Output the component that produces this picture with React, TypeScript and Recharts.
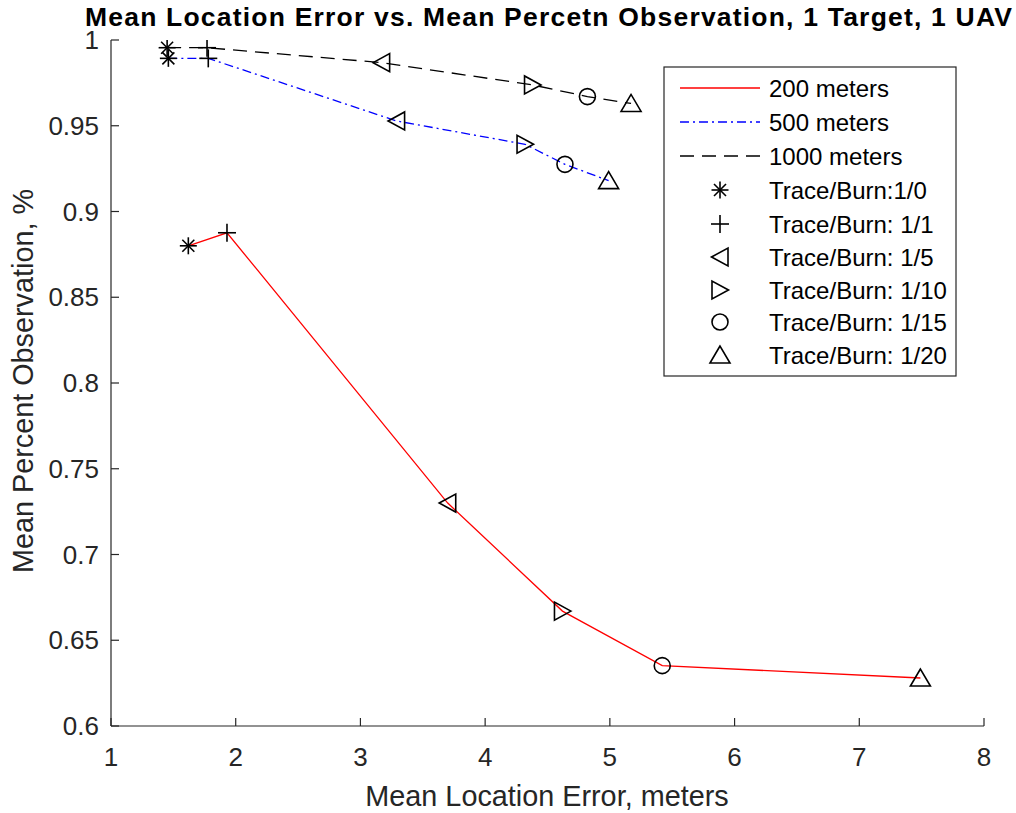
import React from 'react';
import { ScatterChart, Scatter, XAxis, YAxis, Customized } from 'recharts';

const markerKinds = ['asterisk', 'plus', 'left', 'right', 'circle', 'up'];
const markerLabels = ['Trace/Burn:1/0', 'Trace/Burn: 1/1', 'Trace/Burn: 1/5', 'Trace/Burn: 1/10', 'Trace/Burn: 1/15', 'Trace/Burn: 1/20'];

const x200 = [1.62, 1.93, 3.70, 4.62, 5.42, 7.49];
const y200 = [0.880, 0.8876, 0.730, 0.667, 0.6352, 0.628];
const x500 = [1.46, 1.78, 3.29, 4.32, 4.64, 4.99];
const y500 = [0.9893, 0.9893, 0.9528, 0.9392, 0.9275, 0.918];
const x1000 = [1.45, 1.77, 3.17, 4.38, 4.82, 5.17];
const y1000 = [0.9955, 0.9955, 0.9868, 0.9738, 0.967, 0.963];

const seriesNames = ['200 meters', '500 meters', '1000 meters'];
const seriesColors = ['#ff0000', '#0000ff', '#000000'];
const seriesDash = ['', '9 4 2 4', '14 8'];

const xTicks = [1, 2, 3, 4, 5, 6, 7, 8];
const yTicks = [0.6, 0.65, 0.7, 0.75, 0.8, 0.85, 0.9, 0.95, 1];
const yTickLabels = ['0.6', '0.65', '0.7', '0.75', '0.8', '0.85', '0.9', '0.95', '1'];

const build = (xs: number[], ys: number[]) => xs.map((x, i) => ({ x, y: ys[i], kind: markerKinds[i] }));
const seriesData = [build(x200, y200), build(x500, y500), build(x1000, y1000)];

const FONT = '"Liberation Sans", Arial, Helvetica, sans-serif';
const AX = '#262626';

function Marker({ cx, cy, kind }: { cx: number; cy: number; kind: string }) {
  const p = { stroke: '#000', strokeWidth: 1.6, fill: 'none' };
  switch (kind) {
    case 'asterisk': {
      const s = 8.5, d = 6;
      return (
        <g {...p}>
          <line x1={cx - s} y1={cy} x2={cx + s} y2={cy} />
          <line x1={cx} y1={cy - s} x2={cx} y2={cy + s} />
          <line x1={cx - d} y1={cy - d} x2={cx + d} y2={cy + d} />
          <line x1={cx - d} y1={cy + d} x2={cx + d} y2={cy - d} />
        </g>
      );
    }
    case 'plus': {
      const s = 9;
      return (
        <g {...p}>
          <line x1={cx - s} y1={cy} x2={cx + s} y2={cy} />
          <line x1={cx} y1={cy - s} x2={cx} y2={cy + s} />
        </g>
      );
    }
    case 'left':
      return <polygon {...p} points={`${cx - 8.5},${cy} ${cx + 8},${cy - 9} ${cx + 8},${cy + 9}`} />;
    case 'right':
      return <polygon {...p} points={`${cx + 8.5},${cy} ${cx - 8},${cy - 9} ${cx - 8},${cy + 9}`} />;
    case 'circle':
      return <circle {...p} cx={cx} cy={cy} r={8} />;
    case 'up':
      return <polygon {...p} points={`${cx},${cy - 9} ${cx - 10},${cy + 8} ${cx + 10},${cy + 8}`} />;
    default:
      return null;
  }
}

const renderShape = (props: any) => <Marker cx={props.cx} cy={props.cy} kind={props.payload?.kind} />;

function XTick(props: any) {
  const { x, y, payload } = props;
  return (
    <g>
      <line x1={x} y1={y} x2={x} y2={y - 8} stroke={AX} strokeWidth={1.2} />
      <text x={x} y={y + 40} textAnchor="middle" fontSize={26} fontFamily={FONT} fill={AX}>
        {String(payload.value)}
      </text>
    </g>
  );
}

function YTick(props: any) {
  const { x, y, payload } = props;
  const idx = yTicks.findIndex((t) => Math.abs(t - payload.value) < 1e-9);
  return (
    <g>
      <line x1={x} y1={y} x2={x + 8} y2={y} stroke={AX} strokeWidth={1.2} />
      <text x={x - 12} y={y + 9} textAnchor="end" fontSize={26} fontFamily={FONT} fill={AX}>
        {idx >= 0 ? yTickLabels[idx] : String(payload.value)}
      </text>
    </g>
  );
}

function Overlay() {
  const lx = 664, ly = 67, lw = 292, lh = 309;
  const rowY = [88, 122, 156, 190, 224, 257, 290, 322, 355];
  return (
    <g fontFamily={FONT}>
      <text x={85} y={26} textAnchor="start" fontSize={26.5} fontWeight="bold" fill="#000" textLength={927} lengthAdjust="spacing">
        Mean Location Error vs. Mean Percetn Observation, 1 Target, 1 UAV
      </text>
      <text x={547} y={806} textAnchor="middle" fontSize={28.8} fill={AX}>
        Mean Location Error, meters
      </text>
      <text x={33} y={381} textAnchor="middle" fontSize={28.8} fill={AX} transform="rotate(-90 33 381)">
        Mean Percent Observation, %
      </text>
      <rect x={lx} y={ly} width={lw} height={lh} fill="#fff" stroke={AX} strokeWidth={1.2} />
      {seriesNames.map((n, i) => (
        <g key={n}>
          <line x1={680} y1={rowY[i]} x2={760} y2={rowY[i]} stroke={seriesColors[i]} strokeWidth={1.3}
            strokeDasharray={seriesDash[i] || undefined} />
          <text x={769} y={rowY[i] + 9} fontSize={24} fill="#000">{n}</text>
        </g>
      ))}
      {markerLabels.map((n, i) => (
        <g key={n}>
          <Marker cx={720} cy={rowY[i + 3]} kind={markerKinds[i]} />
          <text x={769} y={rowY[i + 3] + 9} fontSize={24} fill="#000">{n}</text>
        </g>
      ))}
    </g>
  );
}

export default function App() {
  return (
    <div style={{ position: 'absolute', left: 0, top: 0, width: 1016, height: 813, background: '#fff' }}>
      <ScatterChart width={1016} height={813} margin={{ top: 40, right: 32, bottom: 0, left: 0 }}>
        <XAxis type="number" dataKey="x" domain={[1, 8]} ticks={xTicks} interval={0} height={87}
          tickSize={0} tickMargin={0} tickLine={false} axisLine={{ stroke: AX, strokeWidth: 1.2 }}
          tick={<XTick />} allowDataOverflow />
        <YAxis type="number" dataKey="y" domain={[0.6, 1]} ticks={yTicks} interval={0} width={111}
          tickSize={0} tickMargin={0} tickLine={false} axisLine={{ stroke: AX, strokeWidth: 1.2 }}
          tick={<YTick />} allowDataOverflow />
        {seriesData.map((d, i) => (
          <Scatter key={seriesNames[i]} name={seriesNames[i]} data={d} lineType="joint"
            line={{ stroke: seriesColors[i], strokeWidth: 1.3, strokeDasharray: seriesDash[i] || undefined }}
            shape={renderShape} isAnimationActive={false} />
        ))}
        <Customized component={Overlay} />
      </ScatterChart>
    </div>
  );
}
